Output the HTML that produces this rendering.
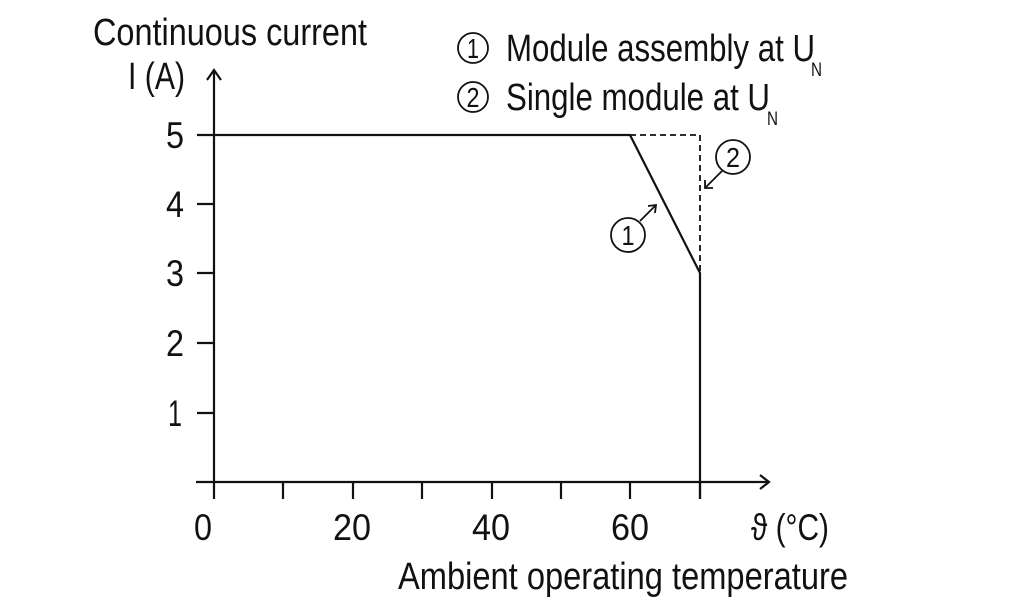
<!DOCTYPE html>
<html><head><style>html,body{margin:0;padding:0;background:#fff}svg{display:block}</style></head>
<body>
<svg width="1024" height="608" viewBox="0 0 1024 608" xmlns="http://www.w3.org/2000/svg" font-family="Liberation Sans, sans-serif" fill="#111">
<g stroke="#111" stroke-width="2.2" fill="none">
<line x1="214" y1="72" x2="214" y2="499"/>
<polyline points="207,80 214,70 221,80"/>
<line x1="196" y1="482" x2="769" y2="482"/>
<polyline points="760,475 769,482 760,489"/>
<line x1="283" y1="482" x2="283" y2="499"/>
<line x1="353" y1="482" x2="353" y2="499"/>
<line x1="422" y1="482" x2="422" y2="499"/>
<line x1="492" y1="482" x2="492" y2="499"/>
<line x1="561" y1="482" x2="561" y2="499"/>
<line x1="630" y1="482" x2="630" y2="499"/>
<line x1="700" y1="482" x2="700" y2="499"/>
<line x1="197" y1="135" x2="214" y2="135"/>
<line x1="197" y1="204" x2="214" y2="204"/>
<line x1="197" y1="273" x2="214" y2="273"/>
<line x1="197" y1="343" x2="214" y2="343"/>
<line x1="197" y1="413" x2="214" y2="413"/>
<polyline points="214,135 630,135 700,273 700,499"/>
<polyline points="630,135 700,135 700,273" stroke-dasharray="6,4" stroke-width="1.8"/>
<circle cx="628" cy="235" r="17" stroke-width="1.8"/>
<line x1="640" y1="221" x2="656" y2="205" stroke-width="1.8"/>
<polyline points="648,206 656,205 655,213" stroke-width="1.8"/>
<circle cx="733" cy="157" r="17" stroke-width="1.8"/>
<line x1="722" y1="171" x2="705" y2="188" stroke-width="1.8"/>
<polyline points="705,180 705,188 713,188" stroke-width="1.8"/>
<circle cx="473" cy="48" r="15" stroke-width="1.8"/>
<circle cx="473" cy="97" r="15" stroke-width="1.8"/>
</g>
<g font-size="28" text-anchor="middle">
<text x="628" y="245" textLength="13" lengthAdjust="spacingAndGlyphs">1</text>
<text x="733" y="167" textLength="14" lengthAdjust="spacingAndGlyphs">2</text>
<text x="473" y="58" textLength="12" lengthAdjust="spacingAndGlyphs">1</text>
<text x="473" y="107" textLength="13" lengthAdjust="spacingAndGlyphs">2</text>
</g>
<g font-size="38">
<text x="93" y="45" textLength="274" lengthAdjust="spacingAndGlyphs">Continuous current</text>
<text x="128" y="89" textLength="57" lengthAdjust="spacingAndGlyphs">I (A)</text>
<text x="506" y="61" textLength="309" lengthAdjust="spacingAndGlyphs">Module assembly at U</text>
<text x="506" y="110" textLength="264" lengthAdjust="spacingAndGlyphs">Single module at U</text>
<text x="398" y="589" textLength="450" lengthAdjust="spacingAndGlyphs">Ambient operating temperature</text>
</g>
<g font-size="19">
<text x="811" y="76" textLength="11" lengthAdjust="spacingAndGlyphs">N</text>
<text x="767" y="125" textLength="11" lengthAdjust="spacingAndGlyphs">N</text>
</g>
<g font-size="37" text-anchor="middle">
<text x="175" y="148" textLength="18" lengthAdjust="spacingAndGlyphs">5</text>
<text x="175" y="217" textLength="18" lengthAdjust="spacingAndGlyphs">4</text>
<text x="175" y="286" textLength="18" lengthAdjust="spacingAndGlyphs">3</text>
<text x="175" y="356" textLength="18" lengthAdjust="spacingAndGlyphs">2</text>
<text x="175" y="426" textLength="14" lengthAdjust="spacingAndGlyphs">1</text>
<text x="203" y="540" textLength="18" lengthAdjust="spacingAndGlyphs">0</text>
<text x="352" y="540" textLength="38" lengthAdjust="spacingAndGlyphs">20</text>
<text x="491" y="540" textLength="38" lengthAdjust="spacingAndGlyphs">40</text>
<text x="630" y="540" textLength="38" lengthAdjust="spacingAndGlyphs">60</text>
<text x="790" y="540" textLength="78" lengthAdjust="spacingAndGlyphs">ϑ (°C)</text>
</g>
</svg>
</body></html>
